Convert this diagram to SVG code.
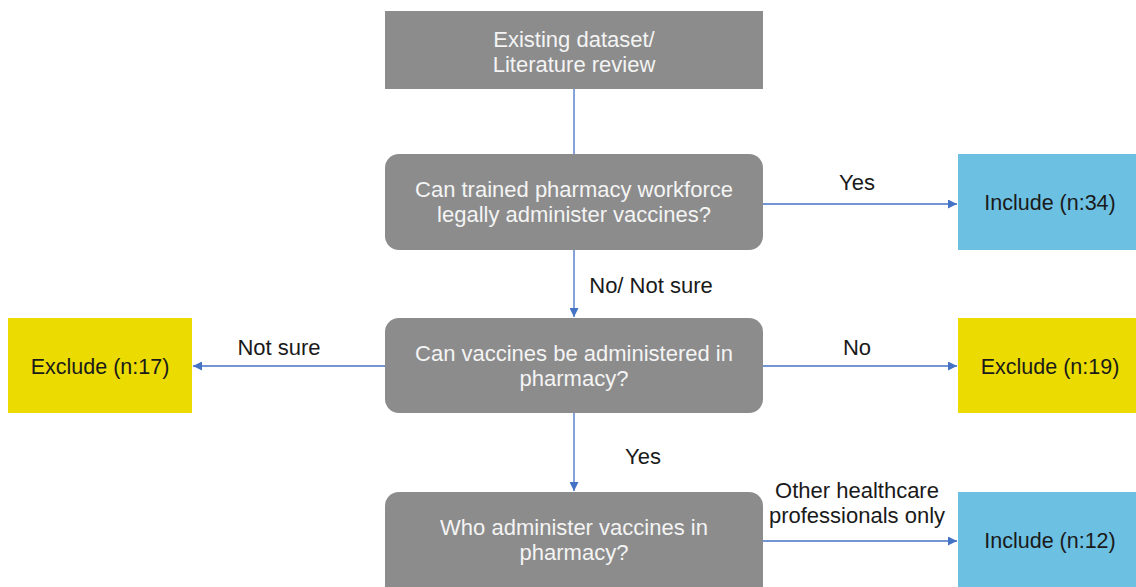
<svg xmlns="http://www.w3.org/2000/svg" width="1136" height="587" viewBox="0 0 1136 587">
  <style>
    text { font-family: "Liberation Sans", Arial, sans-serif; font-size: 22px; text-anchor: middle; }
    .label { fill: #1a1a1a; }
    .step { fill: #8c8c8c; }
    .step-text { fill: #f4f4f4; }
    .include { fill: #6cc0e2; }
    .exclude { fill: #ebdb00; }
    .result-text { fill: #1a1a1a; font-size: 21.5px; }
    .link { stroke: #4472c4; stroke-width: 1.3; fill: none; }
  </style>
  <defs>
    <marker id="arrow" viewBox="0 0 10 10" refX="10" refY="5" markerWidth="10" markerHeight="9" orient="auto" markerUnits="userSpaceOnUse">
      <path d="M0,0 L10,5 L0,10 z" fill="#4472c4"/>
    </marker>
  </defs>
  <rect width="1136" height="587" fill="#ffffff"/>

  <g id="connectors">
    <line class="link" x1="574" y1="89" x2="574" y2="154"/>
    <line class="link" x1="574" y1="250" x2="574" y2="317" marker-end="url(#arrow)"/>
    <line class="link" x1="574" y1="413" x2="574" y2="491" marker-end="url(#arrow)"/>
    <line class="link" x1="763" y1="204" x2="957" y2="204" marker-end="url(#arrow)"/>
    <line class="link" x1="763" y1="366" x2="957" y2="366" marker-end="url(#arrow)"/>
    <line class="link" x1="385" y1="366" x2="193" y2="366" marker-end="url(#arrow)"/>
    <line class="link" x1="763" y1="541" x2="957" y2="541" marker-end="url(#arrow)"/>
    <text class="label" x="857" y="190">Yes</text>
    <text class="label" x="651" y="293">No/ Not sure</text>
    <text class="label" x="279" y="355">Not sure</text>
    <text class="label" x="857" y="355">No</text>
    <text class="label" x="643" y="464">Yes</text>
    <text class="label" x="857" y="498">Other healthcare</text>
    <text class="label" x="857" y="523">professionals only</text>
  </g>

  <g id="source">
    <rect class="step" x="385" y="11" width="378" height="78"/>
    <text class="step-text" x="574" y="47">Existing dataset/</text>
    <text class="step-text" x="574" y="72">Literature review</text>
  </g>

  <g id="q-workforce">
    <rect class="step" x="385" y="154" width="378" height="96" rx="14"/>
    <text class="step-text" x="574" y="197">Can trained pharmacy workforce</text>
    <text class="step-text" x="574" y="222">legally administer vaccines?</text>
  </g>

  <g id="q-pharmacy">
    <rect class="step" x="385" y="318" width="378" height="95" rx="14"/>
    <text class="step-text" x="574" y="361">Can vaccines be administered in</text>
    <text class="step-text" x="574" y="386">pharmacy?</text>
  </g>

  <g id="q-who">
    <rect class="step" x="385" y="492" width="378" height="110" rx="14"/>
    <text class="step-text" x="574" y="535">Who administer vaccines in</text>
    <text class="step-text" x="574" y="560">pharmacy?</text>
  </g>

  <g id="include-34">
    <rect class="include" x="958" y="154" width="178" height="96"/>
    <text class="result-text" x="1050" y="210">Include (n:34)</text>
  </g>

  <g id="exclude-17">
    <rect class="exclude" x="8" y="318" width="184" height="95"/>
    <text class="result-text" x="100" y="374">Exclude (n:17)</text>
  </g>

  <g id="exclude-19">
    <rect class="exclude" x="958" y="318" width="178" height="95"/>
    <text class="result-text" x="1050" y="374">Exclude (n:19)</text>
  </g>

  <g id="include-12">
    <rect class="include" x="958" y="492" width="178" height="110"/>
    <text class="result-text" x="1050" y="548">Include (n:12)</text>
  </g>
</svg>
